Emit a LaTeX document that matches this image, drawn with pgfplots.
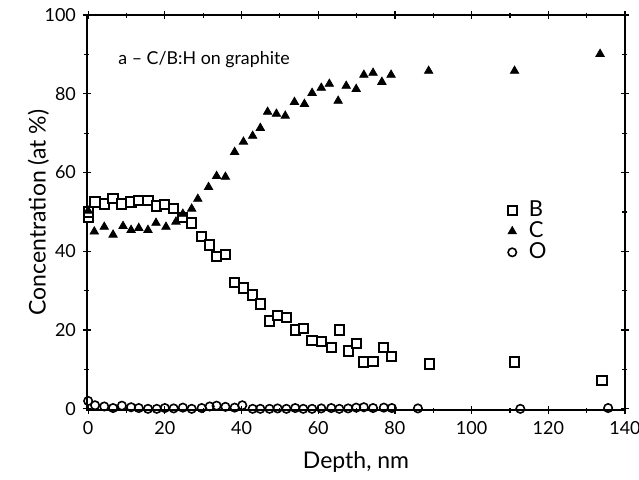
\documentclass[border=0pt]{standalone}
\usepackage{fontspec}
\setmainfont{Lato}
\usepackage{pgfplots}
\pgfplotsset{compat=1.18}

\begin{document}
\begin{tikzpicture}
\begin{axis}[
  scale only axis,
  at={(0,0)}, anchor=south west,
  width=269pt, height=197.5pt,
  xmin=-0.3, xmax=140, ymin=-0.3, ymax=100,
  xtick={0,20,...,140}, ytick={0,20,...,100},
  minor x tick num=1, minor y tick num=1,
  tick align=center, tick pos=both,
  major tick length=4pt, minor tick length=2.5pt,
  tick style={black, line width=0.6pt},
  axis line style={line width=0.7pt},
  /pgf/number format/assume math mode=true,
  tick label style={font=\fontsize{9}{10}\selectfont},
  label style={font=\fontsize{11.5}{13}\selectfont},
  xlabel={Depth, nm}, ylabel={Concentration (at \%)},
  xlabel style={yshift=-2pt},
  ylabel style={yshift=-9pt},
  clip=false,
  legend style={draw=none, fill=none, at={(0.77,0.55)}, anchor=north west,
                font=\fontsize{11}{12}\selectfont, row sep=-3pt,
                /tikz/every odd column/.append style={column sep=4pt}},
  legend cell align=left,
]
\addplot[only marks, mark=square*, mark size=2.3pt,
  mark options={draw=black, fill=white, line width=1pt}] coordinates {
  (0,48.5)(0,50)(1.8,52.5)(4.2,52)(6.5,53.5)(8.8,52)(11.2,52.5)(13.2,52.8)
  (15.6,53)(17.9,51.5)(20,51.8)(22.3,50.8)(24.7,48.5)(27,47.2)(29.6,43.7)
  (31.7,41.6)(33.5,38.6)(35.8,39.1)(38.2,32)(40.5,30.7)(42.9,28.9)(44.9,26.6)
  (47.3,22.3)(49.4,23.6)(51.7,23.1)(54,20)(56.1,20.3)(58.4,17.3)(60.8,17)
  (63.4,15.5)(65.5,20)(67.8,14.7)(69.9,16.5)(71.9,11.9)(74.3,12)(77.1,15.5)
  (79.2,13.2)(89.1,11.4)(111.2,11.9)(134,7.1)};
\addlegendentry{B}

\addplot[only marks, mark=triangle*, mark size=2.4pt,
  mark options={draw=black, fill=black}] coordinates {
  (0,50.3)(1.6,45)(4.2,46.2)(6.5,44.2)(9.1,46.4)(11.2,45.4)(13.2,45.9)
  (15.6,45.4)(17.7,47.2)(20.3,46.2)(22.9,47.5)(24.7,49.5)(27,50.8)(28.6,53.3)
  (31.4,56.3)(33.5,59.1)(35.8,58.9)(38.2,65.2)(40.5,67.8)(42.9,69.3)(44.9,71.3)
  (46.8,75.4)(49.1,74.9)(51.4,74.4)(53.8,77.9)(56.4,77.4)(58.4,80.2)(60.8,81.5)
  (62.9,82.5)(65.2,78.2)(67.3,82)(69.9,81.2)(71.9,84.8)(74.3,85.3)(76.6,83)
  (79,84.8)(88.8,85.8)(111.2,85.8)(133.5,90.1)};
\addlegendentry{C}

\addplot[only marks, mark=o, mark size=2.1pt,
  mark options={draw=black, fill=white, line width=0.8pt}] coordinates {
  (0,2)(1.8,0.9)(4.2,0.6)(6.5,0.2)(8.8,0.8)(11.2,0.4)(13.2,0.2)(15.6,0)
  (17.9,0)(20,0.2)(22.3,0.1)(24.7,0.3)(27,0)(29.6,0.2)(31.7,0.6)(33.5,0.8)
  (35.8,0.5)(38.2,0.3)(40.2,0.9)(42.9,0)(44.9,0)(47.3,0)(49.4,0.1)(51.7,0)
  (54,0.2)(56.1,0)(58.4,0)(60.8,0.1)(63.4,0.2)(65.5,0)(67.8,0.1)(69.9,0.3)
  (71.9,0.4)(74.3,0.2)(77.1,0.3)(79.2,0.2)(86,0.1)(112.7,0)(135.6,0.2)};
\addlegendentry{O}

\node[anchor=west, inner sep=0pt, font=\fontsize{8.9}{11}\selectfont] at (axis cs:7.8,88.8) {a -- C/B:H on graphite};
\end{axis}
\pgfresetboundingbox
\path[use as bounding box] (-43.5pt,-34.5pt) rectangle (276pt,205pt);
\end{tikzpicture}
\end{document}
